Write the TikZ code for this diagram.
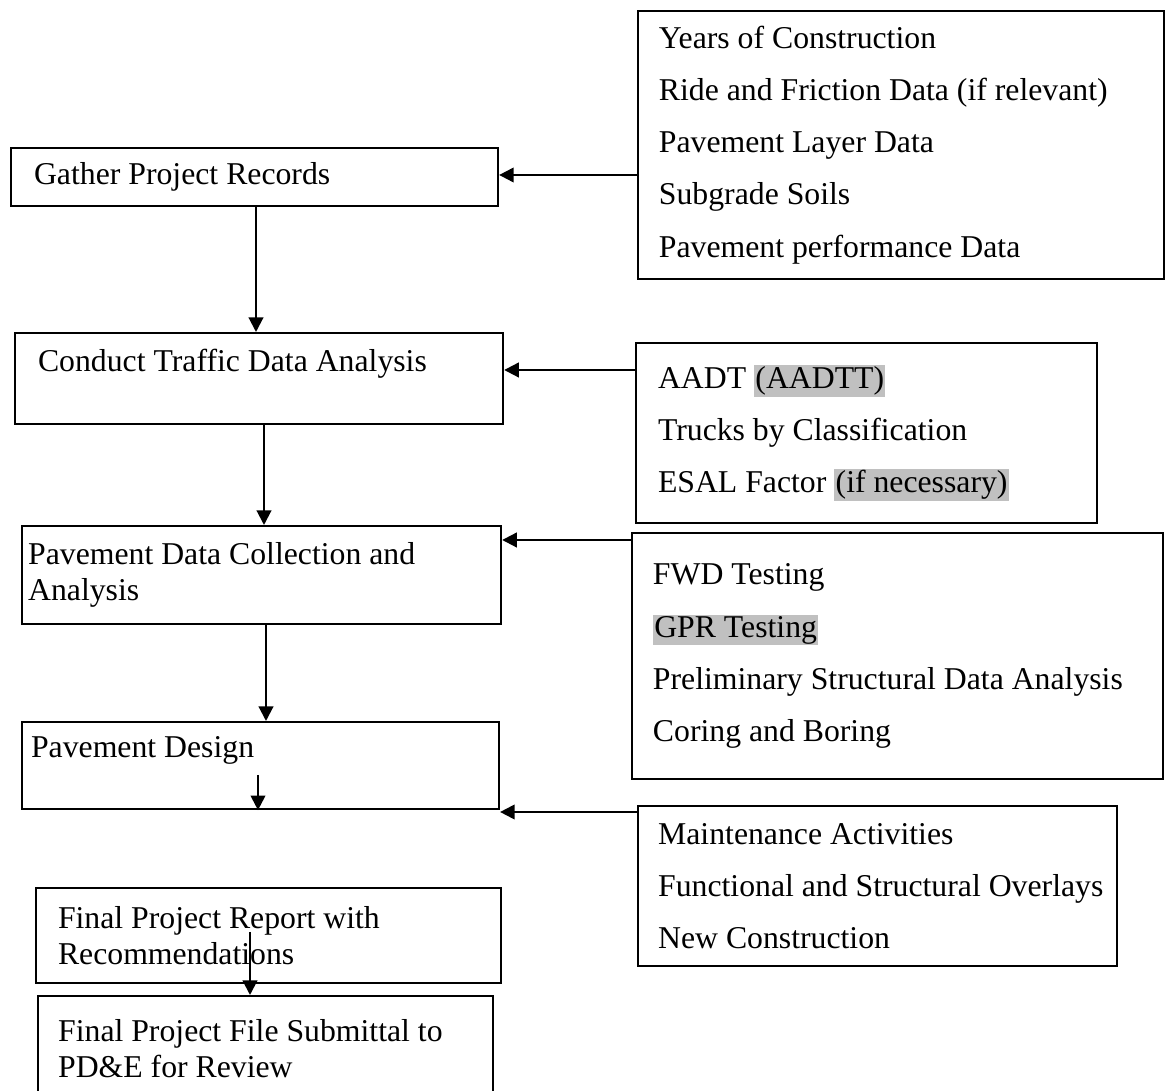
\documentclass[tikz,border=0pt]{standalone}
\usepackage{fontspec}
\setmainfont{Liberation Serif}
\usetikzlibrary{arrows.meta}
\definecolor{hlgray}{HTML}{C0C0C0}
\newcommand{\grayhl}[1]{{\setlength{\fboxsep}{0.5pt}\colorbox{hlgray}{#1}}}

\begin{document}
\begin{tikzpicture}[x=0.378pt,y=-0.378pt,
	box/.style={draw,line width=0.8pt,anchor=north west,align=flush left,inner xsep=0pt,inner ysep=0pt},
	stage/.style={box,font=\fontsize{12}{13.8}\selectfont},
	inputs/.style={box,font=\fontsize{12}{19.7}\selectfont},
	pad/.style={execute at begin node={\leftskip=#1\relax}},
	flow/.style={-{Triangle[length=5.5pt,width=5.5pt]},line width=0.8pt}]
	\clip (0,0) rectangle (1169,1091);

	% steps on the left
	\node [stage,pad=8.7pt,text width=184.1pt,minimum height=21.9pt] (G) at (10,147) {Gather Project Records};
	\node [stage,pad=8.7pt,text width=184.5pt,minimum height=34.4pt] (CT) at (14,332) {Conduct Traffic Data Analysis\\~};
	\node [stage,pad=2.3pt,text width=181.1pt,minimum height=37pt] (PD) at (21,525) {Pavement Data Collection and\\Analysis};
	\node [stage,pad=3.4pt,text width=180.3pt,minimum height=32.9pt] (D) at (21,721) {Pavement Design\\~};
	\node [stage,pad=8.3pt,text width=175.8pt,minimum height=35.9pt] (FR) at (35,887) {Final Project Report with\\Recommendations};
	\node [stage,pad=7.6pt,text width=172pt,minimum height=39.7pt] (FS) at (37,995) {Final Project File Submittal to\\PD\&E for Review};

	% inputs on the right
	\node [inputs,pad=7.9pt,text width=198.8pt,minimum height=101.3pt] (R) at (637,10) {Years of Construction\\Ride and Friction Data (if relevant)\\Pavement Layer Data\\Subgrade Soils\\Pavement performance Data};
	\node [inputs,pad=8.3pt,text width=174.3pt,minimum height=68pt] (TD) at (635,342) {AADT \grayhl{(AADTT)}\\Trucks by Classification\\ESAL Factor \grayhl{(if necessary)}};
	\node [inputs,pad=7.9pt,text width=200.7pt,minimum height=93pt] (PT) at (631,532) {FWD Testing\\\grayhl{GPR Testing}\\Preliminary Structural Data Analysis\\Coring and Boring};
	\node [inputs,pad=7.6pt,text width=181.1pt,minimum height=60.5pt] (MA) at (637,805) {Maintenance Activities\\Functional and Structural Overlays\\New Construction};

	\draw [flow] (R.west |- 0,175) -- (G.east |- 0,175);
	\draw [flow] (TD.west |- 0,370) -- (CT.east |- 0,370);
	\draw [flow] (PT.west |- 0,540) -- (PD.east |- 0,540);
	\draw [flow] (MA.west |- 0,812) -- (D.east |- 0,812);

	\draw [flow] (G.south -| 256,0) -- (CT.north -| 256,0);
	\draw [flow] (CT.south -| 264,0) -- (PD.north -| 264,0);
	\draw [flow] (PD.south -| 266,0) -- (D.north -| 266,0);
	\coordinate (Dstub) at (258,775);
	\draw [flow] (Dstub) -- (D.south -| 258,0);
	\coordinate (FRstub) at (250,932);
	\draw [flow] (FRstub) -- (FS.north -| 250,0);
\end{tikzpicture}
\end{document}
